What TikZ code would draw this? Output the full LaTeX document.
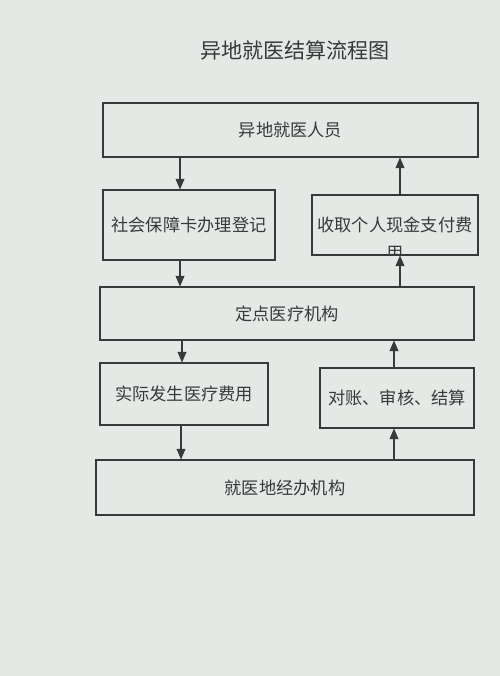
\documentclass[tikz,border=0pt]{standalone}
\usepackage{fontspec}
\setmainfont{Noto Sans CJK SC}
\usepackage{tikz}
\usetikzlibrary{arrows.meta,backgrounds,calc,positioning}
\definecolor{paper}{RGB}{229,233,229}
\definecolor{ink}{RGB}{55,58,58}

\tikzset{
  box/.style={draw=ink,line width=0.6pt,text=ink,font=\fontsize{9.8}{11}\selectfont,inner sep=2pt},
  arr/.style={draw=ink,line width=0.6pt,-{Triangle[length=6pt,width=5pt]}}
}

\begin{document}
\begin{tikzpicture}
\fill[paper] (0,0) rectangle (10,13.52);
\useasboundingbox (0,0) rectangle (10,13.52);
\node[text=ink,font=\fontsize{12}{14}\selectfont] (title) at (5.9,12.52) {异地就医结算流程图};
\node[box,minimum width=7.5cm,minimum height=1.08cm] (person) at (5.81,10.92) {异地就医人员};
\node[box,minimum width=3.44cm,minimum height=1.4cm] (card) at (3.78,9.02) {社会保障卡办理登记};
\node[box,minimum width=3.32cm,minimum height=1.2cm] (cash) at (7.9,9.02) {收取个人现金支付费};
\node[box,minimum width=7.48cm,minimum height=1.06cm] (hosp) at (5.74,7.25) {定点医疗机构};
\node[box,minimum width=3.36cm,minimum height=1.24cm] (cost) at (3.68,5.64) {实际发生医疗费用};
\node[box,minimum width=3.08cm,minimum height=1.2cm] (check) at (7.94,5.56) {对账、审核、结算};
\node[box,minimum width=7.56cm,minimum height=1.1cm] (agency) at (5.7,3.77) {就医地经办机构};
\begin{scope}
\clip (cash.south west) rectangle (cash.north east);
\node[box,draw=none] (cashb) at ($(cash.south)+(0,0.04)$) {用};
\end{scope}
\draw[arr] ([xshift=-0.18cm]card.north |- person.south) -- ([xshift=-0.18cm]card.north);
\draw[arr] ([xshift=-0.18cm]card.south) -- ([xshift=-0.18cm]card.south |- hosp.north);
\draw[arr] ([xshift=0.1cm]cash.north) -- ([xshift=0.1cm]cash.north |- person.south);
\draw[arr] ([xshift=0.1cm]cash.south |- hosp.north) -- ([xshift=0.1cm]cash.south);
\draw[arr] ([xshift=-0.04cm]cost.north |- hosp.south) -- ([xshift=-0.04cm]cost.north);
\draw[arr] ([xshift=-0.06cm]cost.south) -- ([xshift=-0.06cm]cost.south |- agency.north);
\draw[arr] ([xshift=-0.06cm]check.north) -- ([xshift=-0.06cm]check.north |- hosp.south);
\draw[arr] ([xshift=-0.06cm]check.south |- agency.north) -- ([xshift=-0.06cm]check.south);
\end{tikzpicture}
\end{document}
